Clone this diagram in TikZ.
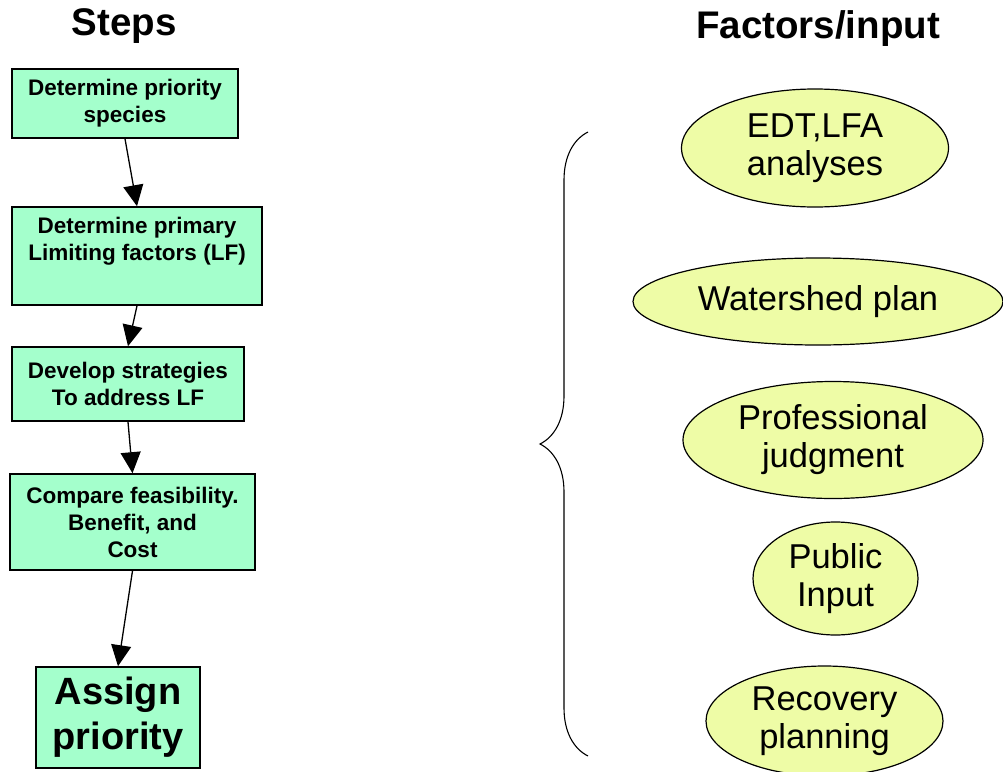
\documentclass[tikz,border=0pt]{standalone}
\usepackage{fontspec}
\setmainfont{Liberation Sans}
\usepackage{tikz}
\usetikzlibrary{positioning,arrows.meta,shapes.geometric,decorations.pathreplacing}

\definecolor{stepgreen}{HTML}{A4FFCC}
\definecolor{factoryellow}{HTML}{EEFCA6}

\begin{document}
\begin{tikzpicture}[x=1pt,y=-1pt,
  stepbox/.style={draw,line width=1.6pt,fill=stepgreen,inner sep=0pt,align=center,
    font=\fontsize{22.5}{27}\selectfont\bfseries},
  factor/.style={draw,ellipse,line width=1.2pt,fill=factoryellow,inner sep=0pt,align=center,
    font=\fontsize{34.5}{38}\selectfont},
  arr/.style={-{Triangle[length=21pt,width=20pt]},line width=1.3pt},
  title/.style={anchor=base,font=\fontsize{38.5}{42}\selectfont\bfseries}]
\useasboundingbox (0,0) rectangle (1003,771);
% titles
\node[title] (steps) at (124,35) {Steps};
\node[title] (factors) at (818,38) {Factors/input};
% steps
\node[stepbox,minimum width=226pt,minimum height=69pt] (s1) at (125,103.5) {Determine priority\\species};
\node[stepbox,minimum width=250pt,minimum height=98pt] (s2) at (137,256) {Determine primary\\Limiting factors (LF)\\\strut};
\node[stepbox,minimum width=232pt,minimum height=74pt] (s3) at (128,384) {Develop strategies\\To address LF};
\node[stepbox,minimum width=245pt,minimum height=96pt] (s4) at (132.5,522) {Compare feasibility.\\Benefit, and\\Cost};
\node[stepbox,minimum width=164pt,minimum height=101pt,font=\fontsize{38}{45}\selectfont\bfseries] (s5) at (118,717.5) {Assign\\priority};
\draw[arr] (s1.south) -- (s2.north);
\draw[arr] (s2.south) -- (s3.north);
\draw[arr] (s3.south) -- (s4.north);
\draw[arr] (s4.south) -- (s5.north);
% factors
\node[factor,minimum width=267pt,minimum height=118pt] (edt) at (815,148) {EDT,LFA\\analyses};
\node[factor,minimum width=370pt,minimum height=87pt] (shed) at (818,301.5) {Watershed plan};
\node[factor,minimum width=300pt,minimum height=117pt] (judg) at (833,440) {Professional\\judgment};
\node[factor,minimum width=165pt,minimum height=113pt] (pub) at (835.5,578.5) {Public\\Input};
\node[factor,minimum width=237pt,minimum height=110pt] (recov) at (824.5,721) {Recovery\\planning};
% brace
\coordinate (bt) at (588,132);
\coordinate (bb) at (588,756);
\draw[line width=1.1pt,decorate,decoration={brace,amplitude=48pt}] (bb) -- (bt);
\end{tikzpicture}
\end{document}
